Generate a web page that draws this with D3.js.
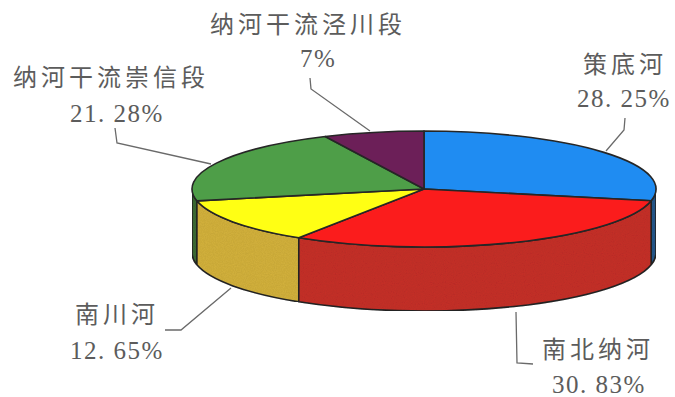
<!DOCTYPE html>
<html>
<head>
<meta charset="utf-8">
<script src="https://cdn.jsdelivr.net/npm/d3@7"></script>
<style>
  html, body { margin: 0; padding: 0; background: #fff; }
  svg { display: block; }
</style>
</head>
<body>
<svg id="chart" width="675" height="397"></svg>
<script>
// Share of each river section (percent), clockwise from 12 o'clock
const names  = ["策底河", "南北纳河", "南川河", "纳河干流崇信段", "纳河干流泾川段"];
const values = [28.25, 30.83, 12.65, 21.28, 7];
const topColors  = ["#1f8cf2", "#fb1c1c", "#ffff14", "#4e9e48", "#6c1f58"];
const sideColors = ["#27588c", "#c8302a", "#d5b33e", "#3e6c34", "#4a1540"];

const svg = d3.select("#chart");
const W = 675, H = 397;

// ellipse geometry of the tilted disc
const cx = 424, cy = 189, rx = 232, ry = 58, depth = 64;

const pie = d3.pie().sort(null).value(d => d).startAngle(0).endAngle(2 * Math.PI);
const arcs = pie(values);

const px = a => cx + rx * Math.sin(a);
const py = (a, dy = 0) => cy - ry * Math.cos(a) + dy;

// outer wall pieces: only the front half (angles between pi/2 and 3pi/2) shows
function sidePath(a0, a1) {
  const p = d3.path();
  p.moveTo(px(a0), py(a0));
  // top rim
  const large = (a1 - a0) > Math.PI ? 1 : 0;
  let d = `M${px(a0)},${py(a0)} A${rx},${ry} 0 ${large} 1 ${px(a1)},${py(a1)}`;
  d += ` L${px(a1)},${py(a1, depth)}`;
  d += ` A${rx},${ry} 0 ${large} 0 ${px(a0)},${py(a0, depth)} Z`;
  return d;
}

function topPath(a0, a1) {
  const large = (a1 - a0) > Math.PI ? 1 : 0;
  return `M${cx},${cy} L${px(a0)},${py(a0)} A${rx},${ry} 0 ${large} 1 ${px(a1)},${py(a1)} Z`;
}

const defs = svg.append("defs");
const grain = defs.append("filter").attr("id", "grain").attr("x", 0).attr("y", 0).attr("width", 1).attr("height", 1);
grain.append("feTurbulence").attr("type", "fractalNoise").attr("baseFrequency", 0.9).attr("numOctaves", 2).attr("result", "n");
grain.append("feColorMatrix").attr("in", "n").attr("type", "matrix")
  .attr("values", "0 0 0 0 0  0 0 0 0 0  0 0 0 0 0  0 0 0 0.18 0").attr("result", "na");
grain.append("feComposite").attr("in", "na").attr("in2", "SourceGraphic").attr("operator", "in").attr("result", "g");
grain.append("feMerge").selectAll("feMergeNode").data(["SourceGraphic", "g"]).join("feMergeNode").attr("in", d => d);

const stroke = "#262626";
const g = svg.append("g");

// walls
const walls = arcs.map((a, i) => ({
  i, a0: Math.max(a.startAngle, Math.PI / 2), a1: Math.min(a.endAngle, 3 * Math.PI / 2)
})).filter(w => w.a1 > w.a0);

g.selectAll("path.wall").data(walls).join("path")
  .attr("class", "wall")
  .attr("d", w => sidePath(w.a0, w.a1))
  .attr("fill", w => sideColors[w.i])
  .attr("filter", "url(#grain)")
  .attr("stroke", stroke)
  .attr("stroke-width", 1.6)
  .attr("stroke-linejoin", "round");

// top face
g.selectAll("path.top").data(arcs).join("path")
  .attr("class", "top")
  .attr("d", a => topPath(a.startAngle, a.endAngle))
  .attr("fill", (a, i) => topColors[i])
  .attr("stroke", stroke)
  .attr("stroke-width", 1.6)
  .attr("stroke-linejoin", "round");

// labels with leader lines
const fmt = v => (Number.isInteger(v) ? String(v) : v.toFixed(2).replace(".", ". ")) + "%";

const layout = [
  { nx: 583, ny: 64,  vx: 577, vy: 98,  line: [[625, 118], [624, 130], [606, 151]] },
  { nx: 542, ny: 349, vx: 552, vy: 384, line: [[516, 312], [517, 363], [533, 364]] },
  { nx: 75,  ny: 314, vx: 70,  vy: 350, line: [[165, 330], [181, 330], [231, 288]] },
  { nx: 13,  ny: 77,  vx: 70,  vy: 113, line: [[115, 128], [117, 143], [211, 164]] },
  { nx: 210, ny: 24,  vx: 300, vy: 58,  line: [[310, 78], [311, 89], [370, 131]] }
];

const lab = svg.append("g");
lab.selectAll("polyline").data(layout).join("polyline")
  .attr("points", d => d.line.map(p => p.join(",")).join(" "))
  .attr("fill", "none")
  .attr("stroke", "#6a6a6a")
  .attr("stroke-width", 1.3);

lab.selectAll("text.name").data(layout).join("text")
  .attr("class", "name")
  .attr("x", d => d.nx)
  .attr("y", d => d.ny + 8.5)
  .attr("font-family", "'Noto Sans CJK SC', sans-serif")
  .attr("font-size", 24)
  .attr("letter-spacing", 4)
  .attr("fill", "#5c5c5c")
  .text((d, i) => names[i]);

lab.selectAll("text.val").data(layout).join("text")
  .attr("class", "val")
  .attr("x", d => d.vx)
  .attr("y", d => d.vy + 8.5)
  .attr("font-family", "'Liberation Serif', serif")
  .attr("font-size", 25)
  .attr("letter-spacing", 1.5)
  .attr("fill", "#5c5c5c")
  .text((d, i) => fmt(values[i]));
</script>
</body>
</html>
